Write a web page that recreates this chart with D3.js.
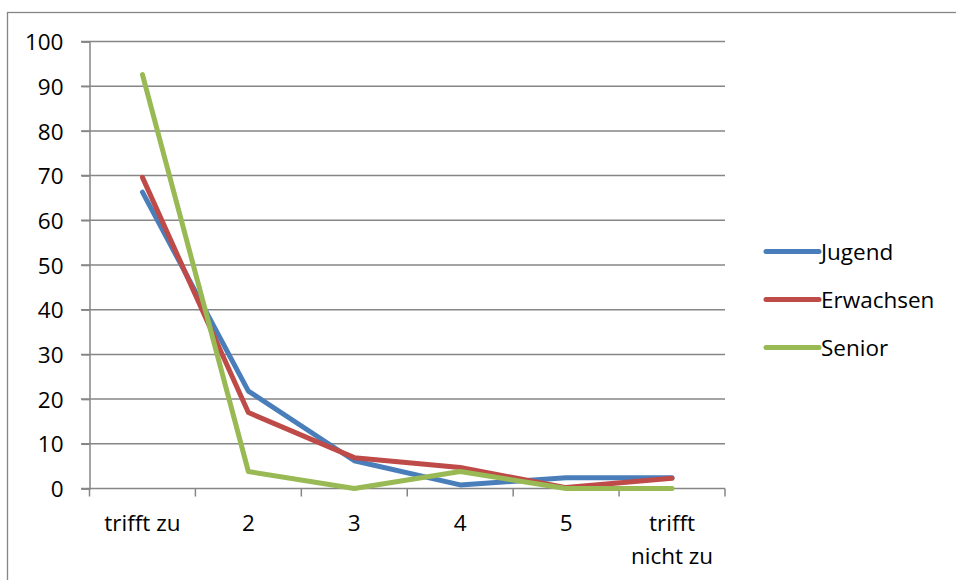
<!DOCTYPE html>
<html><head><meta charset="utf-8">
<script src="https://cdn.jsdelivr.net/npm/d3@7"></script>
<style>body{margin:0;background:#fff}svg{display:block}text{font-family:"Open Sans",Lato,"Liberation Sans",sans-serif;fill:#000}</style>
</head><body><svg id="c" width="956" height="580"></svg>
<script>
const categories = ["trifft zu", "2", "3", "4", "5", "trifft nicht zu"];
const categoryLines = [["trifft zu"], ["2"], ["3"], ["4"], ["5"], ["trifft", "nicht zu"]];
const seriesNames = ["Jugend", "Erwachsen", "Senior"];
const jugend = [66.3, 21.8, 6.2, 0.8, 2.4, 2.4];
const erwachsen = [69.6, 17.0, 6.9, 4.7, 0.2, 2.3];
const senior = [92.6, 3.8, 0.0, 3.8, 0.0, 0.0];
const yTicks = [0, 10, 20, 30, 40, 50, 60, 70, 80, 90, 100];
const colors = ["#4A7EBB", "#BE4B48", "#98B954"];

const svg = d3.select("#c");
const fs = 22.5;
svg.append("rect").attr("x", 7.5).attr("y", 12.5).attr("width", 1000).attr("height", 1000)
  .attr("fill", "none").attr("stroke", "#868686").attr("stroke-width", 1.3);

const x = d3.scaleBand().domain(categories).range([89.5, 725]);
const y = d3.scaleLinear().domain([0, 100]).range([488.5, 41.5]);
const cx = c => x(c) + x.bandwidth() / 2;

// gridlines
svg.append("g").selectAll("line").data(yTicks.filter(d => d > 0)).join("line")
  .attr("x1", 81).attr("x2", 725).attr("y1", d => y(d)).attr("y2", d => y(d))
  .attr("stroke", "#868686").attr("stroke-width", 1.5);
// y axis
const yAxis = svg.append("g").attr("transform", "translate(89.5,0)")
  .call(d3.axisLeft(y).tickValues(yTicks).tickSize(8).tickPadding(18).tickFormat(d3.format("d")));
yAxis.attr("font-family", null).attr("font-size", null);
yAxis.select(".domain").attr("stroke", "#868686").attr("stroke-width", 1.5);
yAxis.selectAll(".tick line").attr("stroke", "#868686").attr("stroke-width", 1.5);
yAxis.selectAll(".tick text").attr("font-size", fs).attr("fill", "#000").attr("dy", "0.36em");
// x axis line
svg.append("line").attr("x1", 81).attr("x2", 725).attr("y1", y(0)).attr("y2", y(0))
  .attr("stroke", "#868686").attr("stroke-width", 1.5);
const bounds = categories.map(c => x(c)).concat([x.range()[1]]);
svg.append("g").selectAll("line").data(bounds).join("line")
  .attr("x1", d => d).attr("x2", d => d).attr("y1", y(0)).attr("y2", y(0) + 8)
  .attr("stroke", "#868686").attr("stroke-width", 1.5);
// x labels
categories.forEach((c, i) => {
  categoryLines[i].forEach((ln, j) => {
    svg.append("text").attr("x", cx(c)).attr("y", 523 + j * 33).attr("dy", "0.36em")
      .attr("text-anchor", "middle").attr("font-size", fs).text(ln);
  });
});

// lines
const data = [jugend, erwachsen, senior];
const line = d3.line().x((d, i) => cx(categories[i])).y(d => y(d));
data.forEach((s, k) => {
  svg.append("path").attr("d", line(s)).attr("fill", "none").attr("stroke", colors[k])
    .attr("stroke-width", 5).attr("stroke-linecap", "round").attr("stroke-linejoin", "round");
});

// legend
seriesNames.forEach((n, k) => {
  const ly = 251.5 + k * 48;
  svg.append("line").attr("x1", 766).attr("x2", 819).attr("y1", ly).attr("y2", ly)
    .attr("stroke", colors[k]).attr("stroke-width", 5).attr("stroke-linecap", "round");
  svg.append("text").attr("x", 821).attr("y", ly).attr("dy", "0.36em").attr("font-size", fs).text(n);
});
</script></body></html>
